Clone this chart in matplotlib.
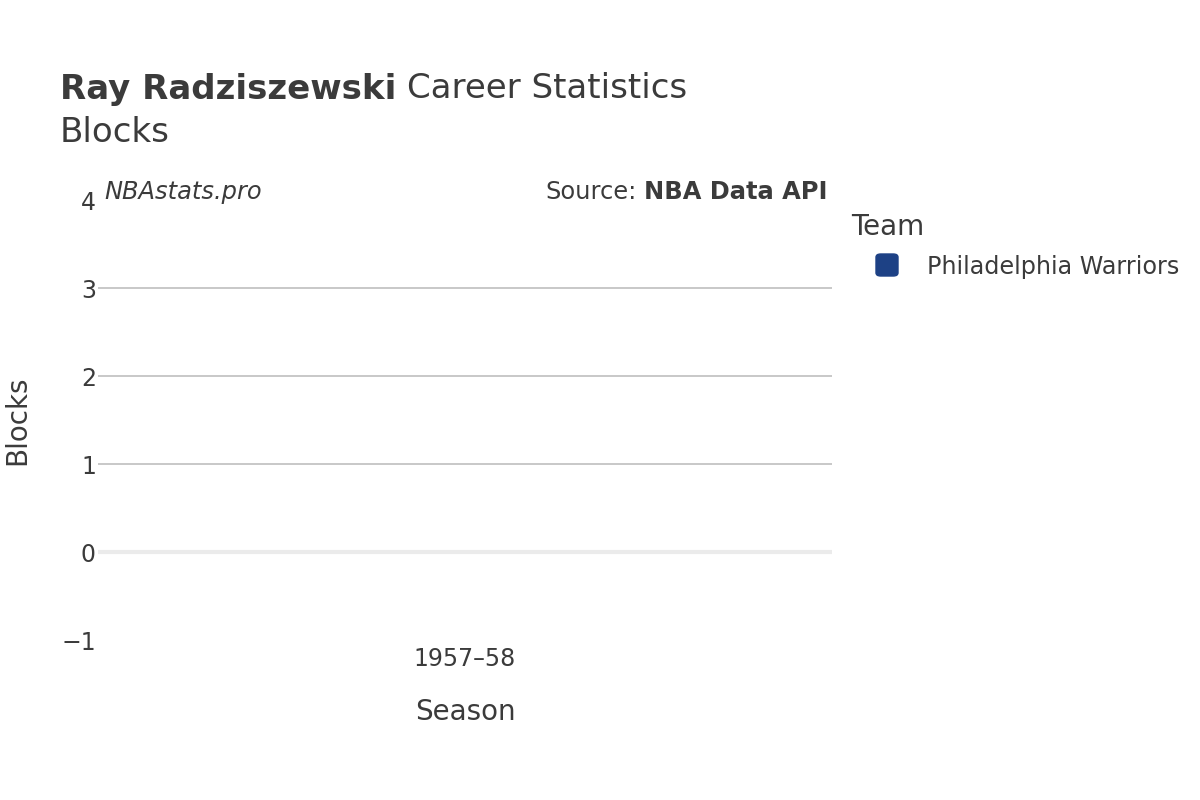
import matplotlib.pyplot as plt
from matplotlib.patches import FancyBboxPatch

# data
seasons = ['1957–58']
blocks = [0]
team = 'Philadelphia Warriors'
team_color = '#1d4185'
player = 'Ray Radziszewski'

txt = '#3b3b3b'
plt.rcParams['font.family'] = ['DejaVu Sans']

fig = plt.figure(figsize=(12, 8), dpi=100)
ax = fig.add_axes([98 / 1200, 1 - 640 / 800, (832 - 98) / 1200, 440 / 800])

ax.bar(seasons, blocks, color=team_color, width=0.6)
ax.set_ylim(-1, 4)
ax.set_xlim(-0.5, 0.5)
ax.set_yticks([-1, 0, 1, 2, 3, 4])
ax.set_yticklabels(['\u22121', '0', '1', '2', '3', '4'])
for y in [1, 2, 3]:
    ax.axhline(y, color='#c4c4c4', lw=1.3, zorder=0)
ax.axhline(0, color='#ebebeb', lw=3, zorder=0)
for s in ax.spines.values():
    s.set_visible(False)
ax.tick_params(axis='both', length=0, labelsize=17, labelcolor=txt)
ax.tick_params(axis='x', pad=5)
ax.tick_params(axis='y', pad=1.5)
for lbl in ax.get_yticklabels():
    lbl.set_va('center_baseline')

# axis titles
fig.text(465 / 1200, 1 - 712 / 800, 'Season', fontsize=20, color=txt, ha='center', va='center')
fig.text(17 / 1200, 1 - 420 / 800, 'Blocks', fontsize=20, color=txt, ha='center', va='center',
         rotation=90)

# title
fig.text(60 / 1200, 1 - 89 / 800, player, fontsize=24.5, fontweight='bold', color=txt, va='center')
fig.text(407 / 1200, 1 - 89 / 800, 'Career Statistics', fontsize=24.5, color=txt, va='center')
fig.text(60 / 1200, 1 - 133 / 800, 'Blocks', fontsize=24.5, color=txt, va='center')

# annotations
fig.text(104 / 1200, 1 - 192 / 800, 'NBAstats.pro', fontsize=17.4, style='italic', color=txt, va='center')
fig.text(637 / 1200, 1 - 192 / 800, 'Source:', fontsize=17.4, color=txt, va='center', ha='right')
fig.text(828 / 1200, 1 - 192 / 800, 'NBA Data API', fontsize=17.4, fontweight='bold', color=txt,
         va='center', ha='right')

# legend
fig.text(851 / 1200, 1 - 227 / 800, 'Team', fontsize=20, color=txt, va='center')
fig.patches.append(FancyBboxPatch((876 / 1200, 1 - 276 / 800), 22 / 1200, 22 / 800,
                                  boxstyle='round,pad=0,rounding_size=0.004',
                                  transform=fig.transFigure, color=team_color))
fig.text(927 / 1200, 1 - 267 / 800, team, fontsize=17.2, color=txt, va='center')

fig.savefig('out.png', dpi=100, facecolor='white')
